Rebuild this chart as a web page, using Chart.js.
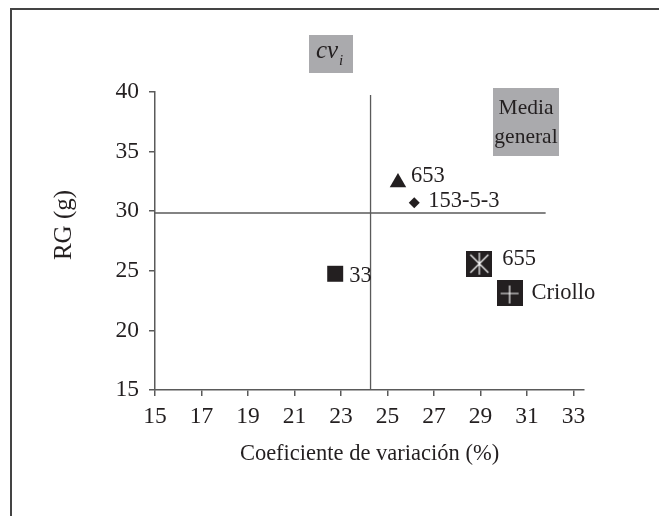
<!DOCTYPE html>
<html>
<head>
<meta charset="utf-8">
<script src="https://cdn.jsdelivr.net/npm/chart.js@4.4.1/dist/chart.umd.min.js"></script>
<style>
  html, body { margin: 0; padding: 0; background: #fff; }
  #wrap { width: 659px; height: 516px; position: relative; }
</style>
</head>
<body>
<div id="wrap"><canvas id="chart"></canvas></div>
<script>
// datos de los genotipos
const genotypes = ['653', '153-5-3', '33', '655', 'Criollo'];
const cvValues = [25.45, 26.15, 22.75, 28.95, 30.25];
const rgValues = [32.4, 30.7, 24.75, 25.6, 23.1];

// medias generales
const meanCv = 24.27;
const meanRg = 29.85;
const meanCvSpan = [15, 39.75];
const meanRgSpan = [15, 31.8];

// ejes
const xTicks = [15, 17, 19, 21, 23, 25, 27, 29, 31, 33];
const yTicks = [15, 20, 25, 30, 35, 40];

const ink = '#231f20';
const lineGray = '#5a5a5a';
const boxGray = '#aaaaad';
const serif = '"Liberation Serif", "Times New Roman", serif';

// estilo de cada marcador (no son datos)
const labelOffsets = [[13, -6], [14, -2], [14, 2], [23, -5], [22, 0]];

function boxMarker(kind) {
  const c = document.createElement('canvas');
  c.width = 26; c.height = 26;
  const g = c.getContext('2d');
  g.fillStyle = ink;
  g.fillRect(0, 0, 26, 26);
  g.strokeStyle = '#fff';
  g.lineWidth = 1.2;
  g.beginPath();
  if (kind === 'star') {
    g.moveTo(13, 2); g.lineTo(13, 24);
    g.moveTo(4, 4); g.lineTo(22, 22);
    g.moveTo(22, 4); g.lineTo(4, 22);
  } else {
    g.moveTo(13, 5); g.lineTo(13, 23);
    g.moveTo(4, 13); g.lineTo(22, 13);
  }
  g.stroke();
  return c;
}

const pointStyles = ['triangle', 'rectRot', 'rect', boxMarker('star'), boxMarker('plus')];
const pointRadii = [9.5, 5.5, 11.3, 13, 13];

const points = genotypes.map((g, i) => ({ x: cvValues[i], y: rgValues[i] }));

// recuadros, marco y etiquetas
const extras = {
  id: 'extras',
  afterDraw(chart) {
    const ctx = chart.ctx;
    const xs = chart.scales.x, ys = chart.scales.y;
    ctx.save();
    // marco
    ctx.strokeStyle = '#444';
    ctx.lineWidth = 2;
    ctx.beginPath();
    ctx.moveTo(11, 516);
    ctx.lineTo(11, 9);
    ctx.lineTo(659, 9);
    ctx.stroke();

    // etiquetas de puntos
    ctx.fillStyle = ink;
    ctx.font = '22.5px ' + serif;
    ctx.textBaseline = 'middle';
    ctx.textAlign = 'left';
    genotypes.forEach((g, i) => {
      const px = xs.getPixelForValue(cvValues[i]);
      const py = ys.getPixelForValue(rgValues[i]);
      ctx.fillText(g, px + labelOffsets[i][0], py + labelOffsets[i][1]);
    });

    // titulo del eje y
    ctx.save();
    ctx.translate(64, 225);
    ctx.rotate(-Math.PI / 2);
    ctx.textAlign = 'center';
    ctx.font = '25px ' + serif;
    ctx.fillText('RG (g)', 0, 0);
    ctx.restore();

    // recuadro cv_i
    ctx.fillStyle = boxGray;
    ctx.fillRect(309, 35, 44, 38);
    ctx.fillStyle = ink;
    ctx.font = 'italic 25px ' + serif;
    ctx.textBaseline = 'alphabetic';
    ctx.fillText('cv', 316, 58);
    ctx.font = 'italic 15px ' + serif;
    ctx.fillText('i', 339, 65);

    // recuadro media general
    ctx.fillStyle = boxGray;
    ctx.fillRect(493, 88, 66, 68);
    ctx.fillStyle = ink;
    ctx.font = '21.5px ' + serif;
    ctx.textAlign = 'center';
    ctx.textBaseline = 'middle';
    ctx.fillText('Media', 526, 108);
    ctx.fillText('general', 526, 137);
    ctx.restore();
  }
};

new Chart(document.getElementById('chart'), {
  type: 'scatter',
  data: {
    datasets: [
      {
        data: points,
        pointStyle: pointStyles,
        pointRadius: pointRadii,
        pointHoverRadius: pointRadii,
        backgroundColor: ink,
        borderColor: ink,
        borderWidth: 0,
        showLine: false
      },
      {
        data: meanCvSpan.map(v => ({ x: meanCv, y: v })),
        showLine: true,
        borderColor: lineGray,
        borderWidth: 1.3,
        pointRadius: 0
      },
      {
        data: meanRgSpan.map(v => ({ x: v, y: meanRg })),
        showLine: true,
        borderColor: lineGray,
        borderWidth: 1.3,
        pointRadius: 0
      }
    ]
  },
  options: {
    responsive: true,
    maintainAspectRatio: false,
    animation: false,
    layout: { padding: { left: 0, top: 92, right: 75, bottom: 0 } },
    plugins: { legend: { display: false }, tooltip: { enabled: false } },
    scales: {
      x: {
        type: 'linear',
        min: 15,
        max: 33.45,
        afterFit: s => { s.height = 126; },
        afterBuildTicks: s => { s.ticks = xTicks.map(v => ({ value: v })); },
        border: { display: true, color: lineGray, width: 1.5 },
        grid: { display: true, drawOnChartArea: false, drawTicks: true, tickLength: 6, color: lineGray, lineWidth: 1.5 },
        ticks: { color: ink, font: { family: serif, size: 23.5 }, padding: 7, maxRotation: 0, autoSkip: false },
        title: { display: true, text: 'Coeficiente de variación (%)', color: ink, font: { family: serif, size: 22.5 }, padding: { top: 0, bottom: 48 } }
      },
      y: {
        type: 'linear',
        min: 15,
        max: 40,
        afterFit: s => { s.width = 155; },
        afterBuildTicks: s => { s.ticks = yTicks.map(v => ({ value: v })); },
        border: { display: true, color: lineGray, width: 1.5 },
        grid: { display: true, drawOnChartArea: false, drawTicks: true, tickLength: 6, color: lineGray, lineWidth: 1.5 },
        ticks: { color: ink, font: { family: serif, size: 23.5 }, padding: 10 },
        title: { display: false }
      }
    }
  },
  plugins: [extras]
});
</script>
</body>
</html>
